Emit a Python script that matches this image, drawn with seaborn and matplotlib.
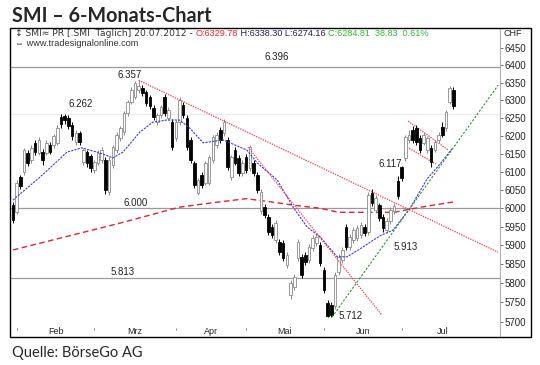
import matplotlib
matplotlib.use("Agg")
import matplotlib.pyplot as plt
from matplotlib.patches import Rectangle
from matplotlib.ticker import FixedLocator, NullLocator
import seaborn as sns
import numpy as np

# SMI daily candles 31.01.2012 - 20.07.2012 (trading-day index 0..119)
opens = [6008, 5990, 6085, 6099, 6152, 6132, 6180, 6152, 6155, 6152,
         6174, 6174, 6180, 6252, 6255, 6250, 6230, 6182, 6207, 6127,
         6155, 6143, 6105, 6124, 6132, 6132, 6044, 6118, 6160, 6193,
         6210, 6264, 6295, 6310, 6330, 6335, 6324, 6310, 6279, 6238,
         6258, 6310, 6250, 6238, 6193, 6238, 6287, 6250, 6188, 6124,
         6041, 6091, 6069, 6069, 6132, 6174, 6216, 6207, 6188, 6085,
         6160, 6138, 6096, 6140, 6110, 6124, 6091, 5992, 6003, 5976,
         5949, 5915, 5909, 5907, 5848, 5769, 5790, 5866, 5870, 5875,
         5861, 5893, 5907, 5901, 5835, 5748, 5743, 5740, 5829, 5861,
         5949, 5896, 5915, 5920, 5928, 5949, 5936, 6041, 5995, 6008,
         5976, 5941, 5965, 5992, 6074, 6113, 6138, 6188, 6216, 6221,
         6193, 6180, 6160, 6166, 6160, 6188, 6224, 6221, 6296, 6329.78]
closes = [5968, 6069, 6060, 6160, 6124, 6166, 6155, 6188, 6132, 6180,
          6155, 6199, 6221, 6233, 6244, 6227, 6199, 6207, 6182, 6160,
          6124, 6110, 6127, 6152, 6160, 6049, 6132, 6168, 6202, 6221,
          6264, 6295, 6330, 6350, 6340, 6321, 6293, 6284, 6253, 6258,
          6281, 6264, 6273, 6168, 6238, 6301, 6258, 6168, 6132, 6063,
          6077, 6063, 6124, 6140, 6196, 6202, 6188, 6238, 6113, 6140,
          6124, 6096, 6124, 6105, 6168, 6096, 6049, 6044, 5981, 5936,
          5928, 5960, 5883, 5866, 5875, 5800, 5816, 5909, 5822, 5856,
          5896, 5920, 5923, 5853, 5782, 5714, 5717, 5822, 5869, 5888,
          5896, 5923, 5941, 5947, 5955, 5933, 6036, 6014, 6027, 5973,
          5947, 5966, 5995, 6006, 6033, 6083, 6196, 6202, 6188, 6182,
          6160, 6202, 6193, 6127, 6182, 6202, 6202, 6267, 6335, 6284.81]
highs = [6016, 6077, 6092, 6166, 6160, 6174, 6188, 6196, 6162, 6188,
         6182, 6205, 6230, 6262, 6262, 6258, 6238, 6216, 6213, 6166,
         6160, 6150, 6132, 6160, 6168, 6140, 6140, 6174, 6210, 6227,
         6270, 6300, 6338, 6355, 6357, 6344, 6330, 6316, 6287, 6264,
         6287, 6318, 6280, 6246, 6244, 6310, 6295, 6258, 6196, 6130,
         6083, 6099, 6130, 6146, 6202, 6210, 6224, 6246, 6196, 6146,
         6168, 6146, 6132, 6148, 6174, 6132, 6099, 6052, 6011, 5984,
         5957, 5968, 5917, 5915, 5882, 5808, 5824, 5917, 5877, 5882,
         5903, 5928, 5930, 5909, 5842, 5756, 5750, 5830, 5877, 5896,
         5957, 5930, 5949, 5955, 5962, 5957, 6044, 6052, 6035, 6014,
         5984, 5973, 6003, 6014, 6088, 6117, 6202, 6216, 6227, 6230,
         6202, 6210, 6199, 6174, 6188, 6210, 6238, 6273, 6340, 6338.30]
lows = [5960, 5985, 6052, 6090, 6115, 6124, 6146, 6146, 6118, 6146,
        6148, 6166, 6174, 6222, 6233, 6218, 6188, 6174, 6174, 6118,
        6113, 6099, 6096, 6118, 6124, 6040, 6036, 6110, 6152, 6185,
        6202, 6256, 6290, 6304, 6322, 6313, 6285, 6276, 6244, 6230,
        6250, 6255, 6244, 6160, 6185, 6230, 6250, 6160, 6124, 6055,
        6036, 6055, 6063, 6063, 6124, 6166, 6180, 6199, 6105, 6077,
        6118, 6088, 6088, 6096, 6102, 6088, 6041, 5985, 5973, 5928,
        5920, 5907, 5875, 5858, 5840, 5760, 5782, 5858, 5814, 5848,
        5853, 5885, 5899, 5845, 5774, 5712, 5712, 5732, 5822, 5853,
        5888, 5888, 5907, 5912, 5920, 5925, 5928, 6006, 5987, 5965,
        5936, 5933, 5957, 5984, 6025, 6074, 6130, 6180, 6180, 6174,
        6152, 6174, 6152, 6113, 6155, 6180, 6196, 6213, 6290, 6274.16]

month_names = ["Feb", "Mrz", "Apr", "Mai", "Jun", "Jul"]
month_start = [1, 22, 44, 63, 84, 105, 127]

# moving averages (index, value)
ma_short_idx = [0, 1, 7.3, 14.6, 18.6, 23.5, 27, 29.7, 34.3, 37.8, 41.6, 45, 47.8,
                51.4, 56.8, 63.2, 66, 71.4, 75.7, 79.5, 83, 87.6, 90.3, 93.8,
                99.2, 102.7, 107.3, 111.9, 115.4, 118.6]
ma_short_val = [6022, 6031, 6085, 6154, 6166, 6152, 6138, 6154, 6210, 6238, 6244, 6244, 6221,
                6180, 6188, 6160, 6124, 6077, 6003, 5949, 5923, 5870, 5870, 5891,
                5926, 5941, 6000, 6080, 6121, 6163]
ma_long_idx = [0, 29, 45, 54, 63, 70, 76, 83, 88, 96, 103, 107, 112, 119]
ma_long_val = [5888, 5960, 6003, 6015, 6026, 6017, 6008, 6000, 5989, 5989, 5989, 5997, 6006, 6017]

# trend lines (start/end as index, price)
down_long = ([34, 131.1], [6357, 5882])
down_steep = ([63.5, 99.7], [6168, 5717])
up_green = ([86.2, 131.1], [5712, 6343])
flag_top = ([106.8, 117.6], [6241, 6160])
flag_bottom = ([106.5, 114.3], [6168, 6121])

levels = [6396, 6000, 5813]
faint_level = 6262
notes = [("6.357", 31.4, 6372), ("6.262", 18.4, 6290), ("6.396", 71.4, 6424),
         ("6.000", 33.2, 6014), ("5.813", 29.7, 5829), ("6.117", 101.9, 6120),
         ("5.913", 106.2, 5897), ("5.712", 91.1, 5715)]
y_ticks = list(range(5700, 6451, 50))

sns.set_style("white")
plt.rcParams["font.family"] = ["Liberation Sans", "DejaVu Sans"]

fig = plt.figure(figsize=(5.4, 3.65), dpi=100)
ax = fig.add_axes([10 / 540, 1 - 337 / 365, 490 / 540, 309 / 365])
ax.set_yscale("log")

for lv in levels:
    ax.axhline(lv, color="#9a9a9a", lw=0.9, zorder=1)
ax.axhline(faint_level, color="#ececec", lw=0.8, zorder=0)

x = np.arange(len(opens))
o = np.array(opens, dtype=float)
c = np.array(closes, dtype=float)
up = c >= o
lo = np.minimum(o, c)
hi = np.maximum(o, c)
ax.vlines(x[up], np.array(lows)[up], np.array(highs)[up], color="#8a8a8a", lw=0.7, zorder=3)
ax.vlines(x[~up], np.array(lows)[~up], np.array(highs)[~up], color="black", lw=0.7, zorder=3)
ax.bar(x[up], (hi - lo)[up], bottom=lo[up], width=0.7, color="white",
       edgecolor="#8a8a8a", lw=0.6, zorder=4)
ax.bar(x[~up], (hi - lo)[~up], bottom=lo[~up], width=0.7, color="black",
       edgecolor="black", lw=0.6, zorder=4)

sns.lineplot(x=ma_short_idx, y=ma_short_val, ax=ax, color="#3b3bd6", lw=0.8,
             linestyle=(0, (2, 1)), zorder=5)
sns.lineplot(x=ma_long_idx, y=ma_long_val, ax=ax, color="#d9262e", lw=1.0,
             linestyle=(0, (4, 2.5)), zorder=2)

for xs, ys in [down_long, down_steep]:
    ax.plot(xs, ys, color="#ee3a44", lw=0.9, linestyle=(0, (1, 1)), zorder=5)
for xs, ys in [flag_top, flag_bottom]:
    ax.plot(xs, ys, color="#ee3a44", lw=0.9, linestyle=(0, (1, 1)), zorder=2)
ax.plot(*up_green, color="#2f8f2f", lw=0.8, linestyle=(0, (2, 1.5)), zorder=5)

for txt, xi, yv in notes:
    ax.text(xi, yv, txt, fontsize=7, ha="center", va="center", color="#222222", zorder=6)

# months
trans = ax.get_xaxis_transform()
for i, name in enumerate(month_names):
    mid = (month_start[i] + month_start[i + 1]) / 2
    ax.text(mid, 0.004, name, transform=trans, fontsize=6.5, ha="center", va="bottom")
ax.vlines(month_start[:-1], 0.024, 0.03, transform=trans, color="#666666", lw=0.6)

ax.set_xlim(-0.8, 131.6)
ax.set_ylim(5661, 6509)
ax.set_xticks([])
ax.yaxis.tick_right()
ax.yaxis.set_major_locator(FixedLocator(y_ticks))
ax.yaxis.set_minor_locator(NullLocator())
ax.set_yticklabels([str(v) for v in y_ticks])
ax.tick_params(axis="y", right=True, length=2, width=0.6, pad=1, labelsize=7, color="#555555")
for s in ["top", "left", "bottom"]:
    ax.spines[s].set_visible(False)
ax.spines["right"].set_color("#b0b0b0")
ax.spines["right"].set_linewidth(0.8)
ax.set_xlabel("")
ax.set_ylabel("")

fig.patches.append(Rectangle((10 / 540, 1 - 337 / 365), 521 / 540, 309 / 365,
                             transform=fig.transFigure, fill=False, ec="black", lw=1.0))
fig.text(503 / 540, 1 - 33 / 365, "CHF", fontsize=6.5, va="center", ha="left")

# header line inside the chart box
fig.canvas.draw()
renderer = fig.canvas.get_renderer()
parts = [("\u2195 SMI\u2248 PR [.SMI  Täglich] 20.07.2012 - ", "#333333"),
         ("O:6329.78", "#e8262e"),
         (" H:6338.30 L:6274.16 ", "#222244"),
         ("C:6284.81  38.83  0.61%", "#33bb33")]
xpix = 15
for txt, col in parts:
    t = fig.text(xpix / 540, 1 - 33 / 365, txt, fontsize=6.6, color=col, va="center", ha="left",
                 family=["DejaVu Sans"] if txt.startswith("\u2195") else None)
    xpix = t.get_window_extent(renderer).x1
fig.text(15 / 540, 1 - 44 / 365, "\u21d4 www.tradesignalonline.com", fontsize=6.6,
         color="#333333", va="center", ha="left")

fig.text(12 / 540, 1 - 22 / 365, "SMI \u2013 6-Monats-Chart", fontsize=14.2,
         weight="bold", family=["Lato", "DejaVu Sans"], va="baseline", ha="left")
fig.text(12 / 540, 1 - 357 / 365, "Quelle: BörseGo AG", fontsize=10.5,
         family=["Lato", "DejaVu Sans"], va="baseline", ha="left")

fig.savefig("out.png", dpi=100)
